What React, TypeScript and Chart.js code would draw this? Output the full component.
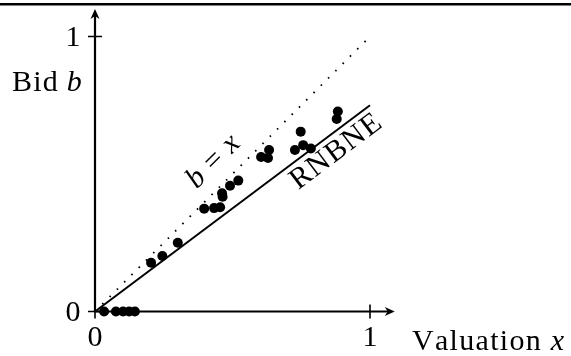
import React, { useEffect, useRef } from "react";
import { Chart, registerables } from "chart.js";

Chart.register(...registerables);

// Observed bids: valuation x and bid b
const valuations = [0.033, 0.076, 0.102, 0.124, 0.145, 0.204, 0.245, 0.301, 0.397, 0.433, 0.455, 0.464, 0.462, 0.491, 0.521, 0.604, 0.633, 0.629, 0.727, 0.757, 0.785, 0.748, 0.879, 0.883];
const bids = [0, 0, 0, 0, 0, 0.177, 0.202, 0.25, 0.374, 0.376, 0.379, 0.417, 0.43, 0.457, 0.476, 0.562, 0.587, 0.558, 0.587, 0.605, 0.593, 0.654, 0.7, 0.727];

// Reference lines
const identityX = [0, 1];
const identityY = [0, 1];
const rnbneX = [0, 1];
const rnbneY = [0, 0.75];

const xTicks = [0, 1];
const yTicks = [0, 1];
const xTickLabels = ["0", "1"];
const yTickLabels = ["0", "1"];

const FONT = "30px 'Liberation Serif'";
const IFONT = "italic 30px 'Liberation Serif'";

// draw text parts char by char with extra spacing
function drawMixed(ctx: CanvasRenderingContext2D, parts: [string, boolean, number][], x: number, y: number, align: "left" | "center", spacing: number) {
  const items: { ch: string; font: string; w: number; gap: number }[] = [];
  parts.forEach(([t, it, gapAfter]) => {
    const font = it ? IFONT : FONT;
    ctx.font = font;
    const chars = Array.from(t);
    chars.forEach((ch, j) => {
      items.push({ ch, font, w: ctx.measureText(ch).width, gap: j === chars.length - 1 ? gapAfter : spacing });
    });
  });
  let total = 0;
  items.forEach((it, i) => {
    total += it.w + (i < items.length - 1 ? it.gap : 0);
  });
  let cx = align === "center" ? x - total / 2 : x;
  ctx.textAlign = "left";
  items.forEach((it) => {
    ctx.font = it.font;
    ctx.fillText(it.ch, cx, y);
    cx += it.w + it.gap;
  });
}

const decor = {
  id: "decor",
  beforeDatasetsDraw(chart: any) {
    const ctx: CanvasRenderingContext2D = chart.ctx;
    const xs = chart.scales.x;
    const ys = chart.scales.y;
    const ox = xs.getPixelForValue(0);
    const oy = ys.getPixelForValue(0);
    const right = chart.chartArea.right;
    const top = chart.chartArea.top;
    ctx.save();
    ctx.fillStyle = "#000";
    ctx.fillRect(0, 3, chart.width, 2.5);
    ctx.strokeStyle = "#000";
    ctx.lineWidth = 2.2;
    ctx.beginPath();
    ctx.moveTo(ox, oy);
    ctx.lineTo(right - 4, oy);
    ctx.moveTo(ox, oy);
    ctx.lineTo(ox, top + 4);
    ctx.stroke();
    // arrowheads
    ctx.beginPath();
    ctx.moveTo(right, oy);
    ctx.lineTo(right - 10, oy - 4.5);
    ctx.lineTo(right - 7, oy);
    ctx.lineTo(right - 10, oy + 4.5);
    ctx.closePath();
    ctx.fill();
    ctx.beginPath();
    ctx.moveTo(ox, top);
    ctx.lineTo(ox - 4.5, top + 10);
    ctx.lineTo(ox, top + 7);
    ctx.lineTo(ox + 4.5, top + 10);
    ctx.closePath();
    ctx.fill();
    // ticks
    ctx.lineWidth = 1.6;
    ctx.beginPath();
    xTicks.forEach((v) => {
      const px = xs.getPixelForValue(v);
      ctx.moveTo(px, oy - 7);
      ctx.lineTo(px, oy + 7);
    });
    yTicks.forEach((v) => {
      const py = ys.getPixelForValue(v);
      ctx.moveTo(ox - 7, py);
      ctx.lineTo(ox + 7, py);
    });
    ctx.stroke();
    ctx.restore();
  },
  afterDraw(chart: any) {
    const ctx: CanvasRenderingContext2D = chart.ctx;
    const xs = chart.scales.x;
    const ys = chart.scales.y;
    const ox = xs.getPixelForValue(0);
    const oy = ys.getPixelForValue(0);
    ctx.save();
    ctx.fillStyle = "#000";
    ctx.textBaseline = "alphabetic";
    ctx.font = FONT;
    ctx.textAlign = "center";
    xTicks.forEach((v, i) => {
      ctx.fillText(xTickLabels[i], xs.getPixelForValue(v), oy + 34);
    });
    yTicks.forEach((v, i) => {
      ctx.fillText(yTickLabels[i], ox - 22, ys.getPixelForValue(v) + 9.5);
    });
    drawMixed(ctx, [["Bid", false, 9], ["b", true, 0]], 12, 91, "left", 1.2);
    drawMixed(ctx, [["Valuation", false, 10], ["x", true, 0]], 412, 350, "left", 1.3);
    // rotated labels
    ctx.textBaseline = "middle";
    ctx.save();
    ctx.translate(213.5, 161.5);
    ctx.rotate(-Math.PI / 4);
    drawMixed(ctx, [["b", true, 9], ["=", false, 9], ["x", true, 0]], 0, 0, "center", 0);
    ctx.restore();
    ctx.save();
    ctx.translate(336, 152);
    const ang = Math.atan2(ys.getPixelForValue(0) - ys.getPixelForValue(0.75), xs.getPixelForValue(1) - xs.getPixelForValue(0));
    ctx.rotate(-ang);
    drawMixed(ctx, [["RNBNE", false, 0]], 0, 0, "center", 1.2);
    ctx.restore();
    ctx.restore();
  },
};

export default function App() {
  const ref = useRef<HTMLCanvasElement | null>(null);
  useEffect(() => {
    let chart: Chart | null = null;
    let cancelled = false;
    const build = () => {
      if (cancelled || !ref.current) return;
      chart = new Chart(ref.current, {
        type: "scatter",
        data: {
          datasets: [
            {
              label: "bids",
              data: valuations.map((v, i) => ({ x: v, y: bids[i] })),
              backgroundColor: "#000",
              borderWidth: 0,
              pointRadius: 5,
              showLine: false,
              clip: false,
            } as any,
            {
              label: "RNBNE",
              data: rnbneX.map((v, i) => ({ x: v, y: rnbneY[i] })),
              borderColor: "#000",
              borderWidth: 2,
              pointRadius: 0,
              showLine: true,
              clip: false,
            },
            {
              label: "b = x",
              data: identityX.map((v, i) => ({ x: v, y: identityY[i] })),
              borderColor: "#000",
              borderWidth: 1.8,
              borderDash: [1.6, 8.7],
              pointRadius: 0,
              showLine: true,
              clip: false,
            },
          ],
        },
        options: {
          responsive: false,
          animation: false,
          layout: { padding: { left: 95, right: 176.25, top: 9, bottom: 44.5 } },
          scales: {
            x: { type: "linear", min: 0, max: 1.09, display: false },
            y: { type: "linear", min: 0, max: 1.1, display: false },
          },
          plugins: { legend: { display: false }, tooltip: { enabled: false } },
        },
        plugins: [decor],
      });
    };
    const fontsApi = (document as any).fonts;
    if (fontsApi && fontsApi.load) {
      Promise.all([fontsApi.load(FONT, "RNBNEValuationBidx"), fontsApi.load(IFONT, "bx")])
        .catch(() => null)
        .then(build);
    } else {
      build();
    }
    return () => {
      cancelled = true;
      if (chart) chart.destroy();
    };
  }, []);
  return (
    <div style={{ position: "fixed", left: 0, top: 0, width: 571, height: 356, background: "#fff" }}>
      <canvas ref={ref} width={571} height={356} style={{ width: 571, height: 356, display: "block" }} />
    </div>
  );
}
